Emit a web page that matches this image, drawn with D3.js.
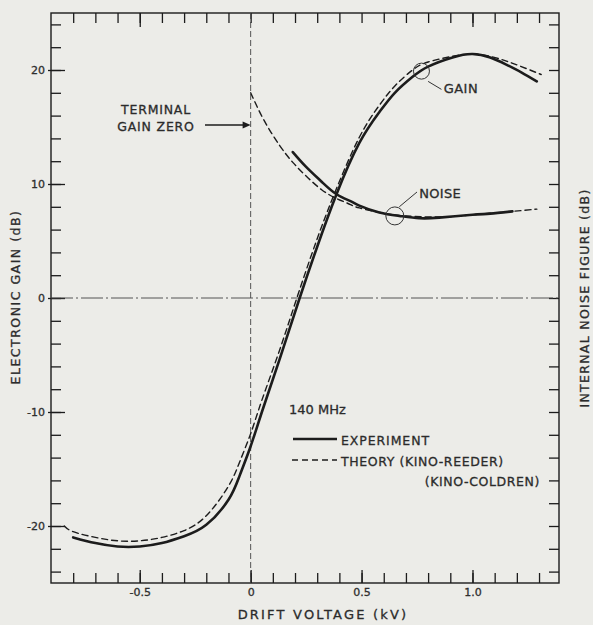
<!DOCTYPE html>
<html>
<head>
<meta charset="utf-8">
<script src="https://cdn.jsdelivr.net/npm/d3@7"></script>
<style>
  body { margin: 0; background: #ecece8; }
  svg { display: block; }
  text { font-family: "DejaVu Sans", sans-serif; fill: #2b2b2b; stroke: #2b2b2b; stroke-width: 0.3; }
</style>
</head>
<body>
<div id="chart"></div>
<script>
// drift voltage (kV) / dB values
const gainExpKv = [-0.8, -0.7, -0.6, -0.5, -0.4, -0.3, -0.2, -0.1, -0.05, 0, 0.054, 0.13, 0.221, 0.3, 0.387, 0.49, 0.58, 0.65, 0.73, 0.8, 0.91, 1.0, 1.08, 1.15, 1.22, 1.29];
const gainExpDb = [-21.0, -21.5, -21.8, -21.8, -21.5, -20.9, -19.9, -17.7, -15.6, -13.0, -9.8, -5.4, 0, 4.5, 9.1, 13.6, 16.3, 18.0, 19.4, 20.3, 21.1, 21.4, 21.1, 20.5, 19.8, 19.0];

const gainTheoryKv = [-0.84, -0.8, -0.7, -0.6, -0.5, -0.4, -0.3, -0.2, -0.1, -0.05, 0, 0.05, 0.13, 0.21, 0.3, 0.387, 0.49, 0.58, 0.65, 0.73, 0.8, 0.91, 1.0, 1.08, 1.15, 1.22, 1.31];
const gainTheoryDb = [-20.0, -20.5, -21.0, -21.3, -21.3, -21.0, -20.4, -19.1, -16.5, -14.4, -11.9, -9.0, -4.6, 0.1, 5.2, 9.6, 14.1, 16.9, 18.6, 20.0, 20.7, 21.2, 21.4, 21.2, 20.8, 20.3, 19.6];

const noiseExpKv = [0.19, 0.25, 0.32, 0.387, 0.45, 0.49, 0.58, 0.67, 0.76, 0.85, 1.0, 1.08, 1.18];
const noiseExpDb = [12.8, 11.5, 10.2, 9.1, 8.5, 8.1, 7.5, 7.2, 7.0, 7.05, 7.3, 7.4, 7.6];

const noiseTheoryKv = [0, 0.06, 0.13, 0.19, 0.25, 0.32, 0.39, 0.45, 0.49, 0.61, 0.7, 0.85, 1.0, 1.18, 1.29];
const noiseTheoryDb = [18.0, 15.6, 13.4, 11.9, 10.7, 9.5, 8.7, 8.2, 7.9, 7.4, 7.2, 7.1, 7.3, 7.6, 7.8];

const xMinorTicks = d3.range(-8, 14).map(i => i / 10);
const xMajorTicks = [-0.5, 0, 0.5, 1.0];
const xTickLabels = ['-0.5', '0', '0.5', '1.0'];
const yMinorTicks = d3.range(-24, 25, 2);
const yMajorTicks = [-20, -10, 0, 10, 20];
const yTickLabels = ['-20', '-10', '0', '10', '20'];

const W = 593, H = 625;
const svg = d3.select('#chart').append('svg').attr('width', W).attr('height', H);
svg.append('rect').attr('width', W).attr('height', H).attr('fill', '#ecece8');

const x = d3.scaleLinear().domain([-0.9, 1.39]).range([51, 559]);
const y = d3.scaleLinear().domain([-25, 25]).range([583, 13]);
const ink = '#1c1c1c';

// axes, all ticks pointing inward
function axisStyle(g) {
  g.select('.domain').remove();
  g.selectAll('.tick line').attr('stroke', ink).attr('stroke-width', 1.3);
}
svg.append('g').attr('transform', 'translate(0,583)')
  .call(d3.axisBottom(x).tickValues(xMinorTicks).tickSize(-10).tickFormat(''))
  .call(axisStyle);
svg.append('g').attr('transform', 'translate(0,583)')
  .call(d3.axisBottom(x).tickValues(xMajorTicks).tickSize(-13).tickPadding(5)
    .tickFormat((d, i) => xTickLabels[i]))
  .call(axisStyle)
  .selectAll('text').attr('font-size', 11).style('fill', '#333');
svg.append('g').attr('transform', 'translate(0,13)')
  .call(d3.axisTop(x).tickValues(xMinorTicks).tickSize(-10).tickFormat(''))
  .call(axisStyle);
svg.append('g').attr('transform', 'translate(0,13)')
  .call(d3.axisTop(x).tickValues([-0.5, 1.0]).tickSize(-14).tickFormat(''))
  .call(axisStyle);

svg.append('g').attr('transform', 'translate(51,0)')
  .call(d3.axisLeft(y).tickValues(yMinorTicks).tickSize(-10).tickFormat(''))
  .call(axisStyle);
svg.append('g').attr('transform', 'translate(51,0)')
  .call(d3.axisLeft(y).tickValues(yMajorTicks).tickSize(-14).tickPadding(6)
    .tickFormat((d, i) => yTickLabels[i]))
  .call(axisStyle)
  .call(g => g.selectAll('.tick line').attr('x1', -3))
  .selectAll('text').attr('font-size', 11).style('fill', '#333');
svg.append('g').attr('transform', 'translate(559,0)')
  .call(d3.axisRight(y).tickValues(yMinorTicks).tickSize(-10).tickFormat(''))
  .call(axisStyle);

// frame
svg.append('rect')
  .attr('x', x(-0.9)).attr('y', y(25))
  .attr('width', x(1.39) - x(-0.9)).attr('height', y(-25) - y(25))
  .attr('fill', 'none').attr('stroke', ink).attr('stroke-width', 1.4);

// zero reference lines
svg.append('line')
  .attr('x1', x(-0.9)).attr('x2', x(1.39)).attr('y1', y(0)).attr('y2', y(0))
  .attr('stroke', '#444').attr('stroke-width', 0.9).attr('stroke-dasharray', '22,3,2,3');
svg.append('line')
  .attr('x1', x(0)).attr('x2', x(0)).attr('y1', y(25)).attr('y2', y(-25))
  .attr('stroke', '#444').attr('stroke-width', 0.9).attr('stroke-dasharray', '6,3');

// curves
const line = d3.line().x(d => x(d[0])).y(d => y(d[1])).curve(d3.curveNatural);
function drawCurve(kv, db, dashed) {
  svg.append('path')
    .datum(d3.zip(kv, db))
    .attr('d', line)
    .attr('fill', 'none')
    .attr('stroke', ink)
    .attr('stroke-width', dashed ? 1.4 : 2.6)
    .attr('stroke-dasharray', dashed ? '6,4' : null)
    .attr('stroke-linecap', 'round');
}
drawCurve(gainTheoryKv, gainTheoryDb, true);
drawCurve(noiseTheoryKv, noiseTheoryDb, true);
drawCurve(gainExpKv, gainExpDb, false);
drawCurve(noiseExpKv, noiseExpDb, false);

// callout circles + leaders
function callout(cx, cy, r, lx1, ly1, lx2, ly2) {
  svg.append('circle').attr('cx', cx).attr('cy', cy).attr('r', r)
    .attr('fill', 'none').attr('stroke', '#333').attr('stroke-width', 1);
  svg.append('line').attr('x1', lx1).attr('y1', ly1).attr('x2', lx2).attr('y2', ly2)
    .attr('stroke', '#333').attr('stroke-width', 1);
}
callout(x(0.77), y(19.9), 8, x(0.8), y(19.0), x(0.86), y(18.3));
svg.append('text').attr('x', x(0.87)).attr('y', 93).attr('font-size', 13)
  .attr('letter-spacing', 0.5).text('GAIN');
callout(x(0.65), y(7.2), 9, x(0.67), y(8.0), x(0.75), y(9.3));
svg.append('text').attr('x', x(0.76)).attr('y', 198).attr('font-size', 13)
  .attr('letter-spacing', 0.3).text('NOISE');

// terminal gain zero note
svg.append('text').attr('x', 156).attr('y', 114).attr('font-size', 12.5)
  .attr('text-anchor', 'middle').attr('letter-spacing', 0.8).text('TERMINAL');
svg.append('text').attr('x', 156).attr('y', 131).attr('font-size', 12.5)
  .attr('text-anchor', 'middle').attr('letter-spacing', 0.8).text('GAIN ZERO');
svg.append('line').attr('x1', 205).attr('x2', x(0) - 6).attr('y1', 125).attr('y2', 125)
  .attr('stroke', ink).attr('stroke-width', 1.3);
svg.append('path')
  .attr('d', `M${x(0)},125 L${x(0) - 8},121.5 L${x(0) - 8},128.5 Z`)
  .attr('fill', ink);

// legend
svg.append('text').attr('x', 289).attr('y', 414).attr('font-size', 13).text('140 MHz');
svg.append('line').attr('x1', 293).attr('x2', 337).attr('y1', 439).attr('y2', 439)
  .attr('stroke', ink).attr('stroke-width', 2.4);
svg.append('text').attr('x', 341).attr('y', 445).attr('font-size', 12.5)
  .attr('letter-spacing', 0.9).text('EXPERIMENT');
svg.append('line').attr('x1', 292).attr('x2', 337).attr('y1', 460).attr('y2', 460)
  .attr('stroke', ink).attr('stroke-width', 1.3).attr('stroke-dasharray', '6,4');
svg.append('text').attr('x', 341).attr('y', 466).attr('font-size', 12.5)
  .attr('letter-spacing', 0.6).text('THEORY (KINO-REEDER)');
svg.append('text').attr('x', 540).attr('y', 486).attr('font-size', 12.5)
  .attr('text-anchor', 'end').attr('letter-spacing', 0.6).text('(KINO-COLDREN)');

// axis titles
svg.append('text').attr('x', 323).attr('y', 619).attr('font-size', 13)
  .attr('text-anchor', 'middle').attr('letter-spacing', 2.2).text('DRIFT VOLTAGE (kV)');
svg.append('text').attr('transform', 'translate(20,297) rotate(-90)').attr('font-size', 12.5)
  .attr('text-anchor', 'middle').attr('letter-spacing', 1.5).text('ELECTRONIC GAIN (dB)');
svg.append('text').attr('transform', 'translate(589,298) rotate(-90)').attr('font-size', 12.5)
  .attr('text-anchor', 'middle').attr('letter-spacing', 1.3).text('INTERNAL NOISE FIGURE (dB)');
</script>
</body>
</html>
